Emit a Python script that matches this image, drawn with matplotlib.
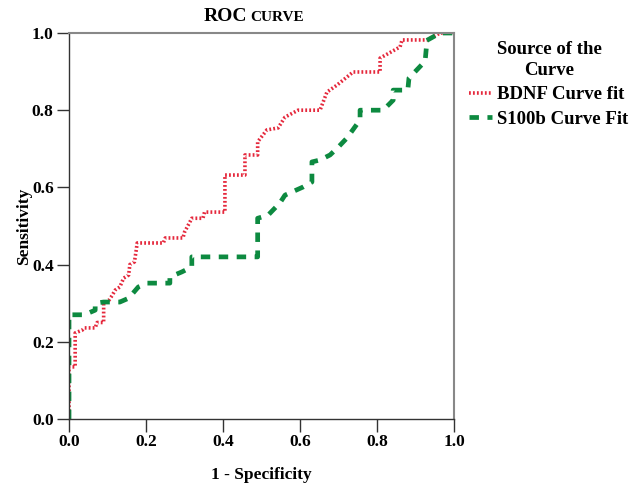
import matplotlib
matplotlib.use("Agg")
import matplotlib.pyplot as plt
from matplotlib.lines import Line2D

# ---- data ----
bdnf_fpr = [0, 0, 0.016, 0.016, 0.034, 0.040, 0.068, 0.073, 0.090, 0.090, 0.104, 0.112,
            0.120, 0.132, 0.142, 0.155, 0.158, 0.170, 0.175, 0.177, 0.245, 0.250, 0.296,
            0.300, 0.319, 0.348, 0.352, 0.405, 0.405, 0.457, 0.457, 0.490, 0.490, 0.514,
            0.543, 0.561, 0.595, 0.652, 0.670, 0.696, 0.738, 0.808, 0.808, 0.860, 0.865,
            0.930, 0.964, 1.0]
bdnf_tpr = [0, 0.135, 0.135, 0.223, 0.230, 0.236, 0.236, 0.250, 0.250, 0.300, 0.308, 0.320,
            0.334, 0.342, 0.365, 0.373, 0.400, 0.407, 0.440, 0.456, 0.456, 0.469, 0.469,
            0.484, 0.520, 0.520, 0.536, 0.536, 0.632, 0.632, 0.684, 0.684, 0.718, 0.749,
            0.754, 0.782, 0.800, 0.800, 0.847, 0.865, 0.899, 0.899, 0.935, 0.964, 0.982,
            0.982, 1.0, 1.0]

s100b_fpr = [0, 0, 0.040, 0.068, 0.068, 0.090, 0.132, 0.155, 0.180, 0.203, 0.262, 0.262,
             0.293, 0.319, 0.319, 0.490, 0.490, 0.517, 0.548, 0.561, 0.608, 0.631, 0.631,
             0.652, 0.678, 0.700, 0.722, 0.756, 0.756, 0.816, 0.842, 0.842, 0.880, 0.883,
             0.925, 0.928, 0.928, 0.964, 1.0]
s100b_tpr = [0, 0.270, 0.270, 0.282, 0.300, 0.303, 0.303, 0.313, 0.342, 0.352, 0.352, 0.368,
             0.381, 0.394, 0.420, 0.420, 0.520, 0.528, 0.560, 0.580, 0.601, 0.614, 0.666,
             0.671, 0.684, 0.705, 0.728, 0.775, 0.800, 0.800, 0.826, 0.852, 0.852, 0.883,
             0.927, 0.960, 0.980, 1.0, 1.0]

x_ticks = [0.0, 0.2, 0.4, 0.6, 0.8, 1.0]
y_ticks = [0.0, 0.2, 0.4, 0.6, 0.8, 1.0]
series_labels = ["BDNF Curve fit", "S100b Curve Fit"]

serif = ["Liberation Serif", "DejaVu Serif"]
plt.rcParams["font.family"] = serif
plt.rcParams["font.weight"] = "bold"

fig = plt.figure(figsize=(6.39, 4.86), dpi=100)
W, H = 639, 486
ax = fig.add_axes([69 / W, (H - 419) / H, 385 / W, 386 / H])

red = "#e5283c"
green = "#0d8a40"
red_ls = (0, (0.5, 0.6))
green_ls = (0, (2.0, 1.8))
ax.plot(bdnf_fpr, bdnf_tpr, color=red, lw=2.6, linestyle=red_ls, dash_capstyle="butt")
ax.plot(s100b_fpr, s100b_tpr, color=green, lw=3.4, linestyle=green_ls, dash_capstyle="butt")

ax.set_xlim(0, 1)
ax.set_ylim(0, 1)
ax.set_xticks(x_ticks)
ax.set_yticks(y_ticks)
ax.set_xticklabels([f"{v:.1f}" for v in x_ticks], fontsize=12.5, fontweight="bold")
ax.set_yticklabels([f"{v:.1f}" for v in y_ticks], fontsize=12.5, fontweight="bold")
ax.tick_params(direction="out", length=9, width=1.0, color="#333333", pad=2)
for s in ("left", "bottom"):
    ax.spines[s].set_color("#333333")
    ax.spines[s].set_linewidth(1.0)
for s in ("top", "right"):
    ax.spines[s].set_color("#888888")
    ax.spines[s].set_linewidth(1.5)

ax.set_xlabel("1 - Specificity", fontsize=12.5, fontweight="bold", labelpad=12)
ax.set_ylabel("Sensitivity", fontsize=12.5, fontweight="bold", labelpad=0)

# title: "ROC" with smaller-caps "CURVE"
fig.text(247 / W, 1 - 21 / H, "ROC", ha="right", va="baseline", fontsize=14, fontweight="bold")
fig.text(250 / W, 1 - 21 / H, "CURVE", ha="left", va="baseline", fontsize=11, fontweight="bold")

handles = [Line2D([], [], color=red, lw=2.6, linestyle=red_ls),
           Line2D([], [], color=green, lw=3.4, linestyle=green_ls)]
leg = fig.legend(handles, series_labels, title="Source of the\nCurve",
                 loc="upper center", bbox_to_anchor=(549 / W, 1 - 24 / H),
                 frameon=False, fontsize=13.5, handlelength=1.2, handletextpad=0.3,
                 labelspacing=0.4,
                 title_fontproperties={"family": serif, "weight": "bold", "size": 13.5})
leg.get_title().set_multialignment("center")
leg.get_title().set_linespacing(1.3)

fig.savefig("out.png", dpi=100)
